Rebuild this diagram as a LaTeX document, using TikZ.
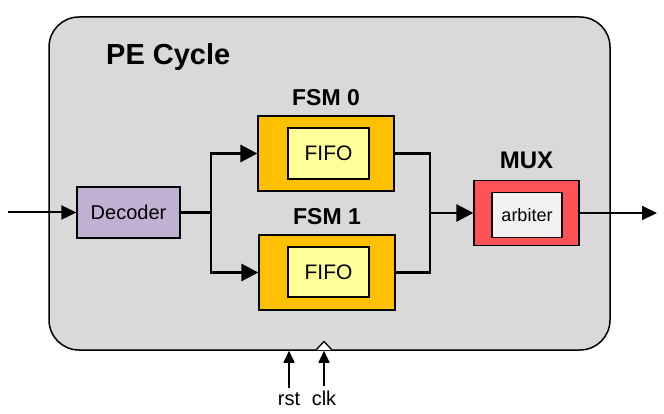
\documentclass[tikz,border=0pt]{standalone}
\usepackage{fontspec}
\setmainfont{Liberation Sans}
\usetikzlibrary{arrows.meta,positioning}
\tikzset{
	blk/.style={draw=black, line width=1.3pt, inner sep=0pt, align=center},
	ttl/.style={inner sep=0pt, font=\bfseries\fontsize{23}{25}\selectfont},
	txt/.style={inner sep=0pt, font=\fontsize{20}{22}\selectfont},
	wire/.style={line width=2.8pt},
	arr/.style={line width=2pt, -{Triangle[length=15pt, width=14pt]}},
	bigarr/.style={line width=2.8pt, -{Triangle[length=17pt, width=17pt]}},
	pin/.style={line width=1.6pt, -{Triangle[length=12pt, width=11pt]}}
}

\begin{document}
\begin{tikzpicture}[x=1pt, y=-1pt]
			%%%%% START %%%%%
			\useasboundingbox (0, 0) rectangle (664, 414);
			
			\node[draw=black, line width=1.5pt, fill={rgb,255:red,217;green,217;blue,217}, rounded corners=30pt, minimum width=561pt, minimum height=333pt] (pe) at (329.5, 183.5) {};
			\node[ttl, font=\bfseries\fontsize{29}{31}\selectfont, anchor=base west] (title) at (106, 65) {PE Cycle};
			
			\node[blk, txt, fill={rgb,255:red,192;green,177;blue,211}, minimum width=103pt, minimum height=51pt] (dec) at (128.5, 212.5) {Decoder};
			
			\node[blk, fill={rgb,255:red,255;green,192;blue,0}, minimum width=136pt, minimum height=75pt] (fsm0) at (326, 153.5) {};
			\node[blk, txt, font=\fontsize{21}{23}\selectfont, fill={rgb,255:red,255;green,255;blue,153}, minimum width=81pt, minimum height=51pt] (fifo0) at (328.5, 153.5) {FIFO};
			\node[ttl, above=9pt of fsm0] (lbl0) {FSM 0};
			
			\node[blk, fill={rgb,255:red,255;green,192;blue,0}, minimum width=136pt, minimum height=75pt] (fsm1) at (327, 272.5) {};
			\node[blk, txt, font=\fontsize{21}{23}\selectfont, fill={rgb,255:red,255;green,255;blue,153}, minimum width=81pt, minimum height=50pt] (fifo1) at (328.5, 272) {FIFO};
			\node[ttl, above=9pt of fsm1] (lbl1) {FSM 1};
			
			\node[blk, fill={rgb,255:red,255;green,82;blue,87}, minimum width=105pt, minimum height=65pt] (mux) at (526.5, 213) {};
			\node[blk, txt, font=\fontsize{18}{20}\selectfont, fill={rgb,255:red,242;green,242;blue,242}, minimum width=70pt, minimum height=45pt] (arb) at (527, 215) {arbiter};
			\node[ttl, font=\bfseries\fontsize{24}{26}\selectfont, above=11pt of mux] (lblm) {MUX};
			
			\coordinate (in) at (8, 212.5);
			\coordinate (split) at (211, 212.5);
			\coordinate (merge) at (430, 213);
			\coordinate (out) at (657, 213);
			
			\draw[arr] (in) -- (dec.west);
			\draw[wire] (dec.east) -- (split);
			\draw[bigarr] (split) |- (fsm0.west);
			\draw[bigarr] (split) |- (fsm1.west);
			\draw[wire] (fsm0.east) -| (merge);
			\draw[wire] (fsm1.east) -| (merge);
			\draw[bigarr] (merge) -- (mux.west);
			\draw[arr] (mux.east) -- (out);
			
			% clock input mark
			\draw[line width=1.3pt, fill=white] (316, 350) -- (324, 341.5) -- (332, 350);
			
			\node[txt, anchor=base] (rst) at (289, 405) {rst};
			\node[txt, anchor=base] (clk) at (324, 405) {clk};
			\draw[pin] (rst.north) ++(0, -4) -- (rst.north |- pe.south);
			\draw[pin] (clk.north) ++(0, -4) -- (clk.north |- pe.south);
			
			%%%%% END %%%%%
		\end{tikzpicture}
\end{document}
